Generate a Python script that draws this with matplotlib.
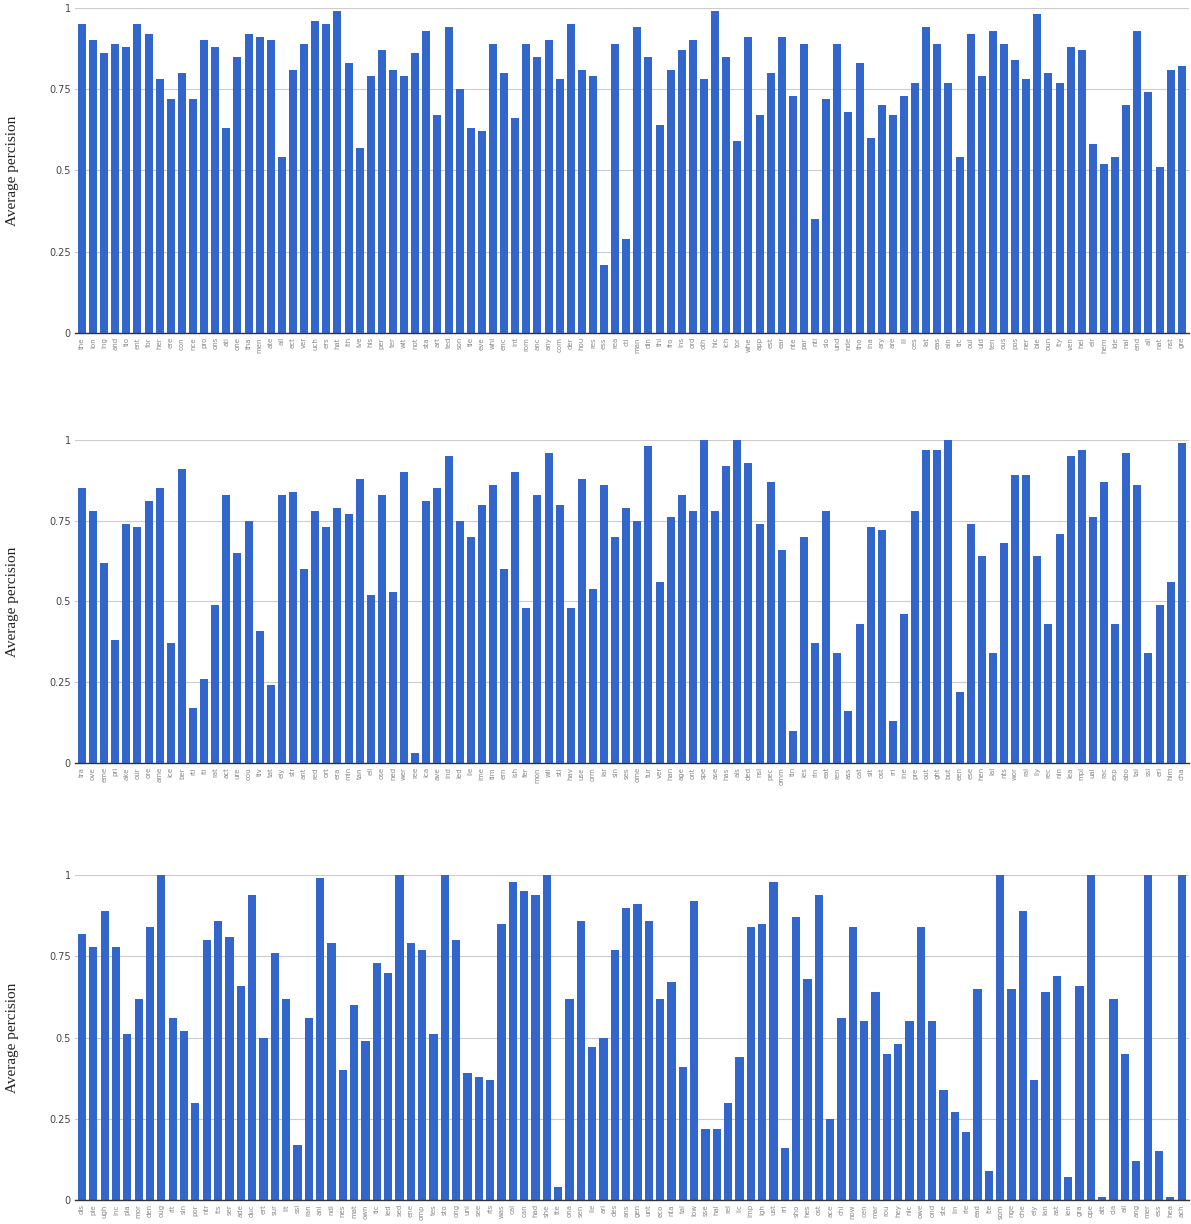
import matplotlib
matplotlib.use("Agg")
from matplotlib import pyplot as plt

# data ---------------------------------------------------------------
labels_1 = ["the", "ion", "ing", "and", "tio", "ent", "for", "her", "ere", "con",
            "nce", "pro", "ons", "ati", "one", "tha", "men", "ate", "all", "ect",
            "ver", "uch", "ers", "hat", "ith", "ive", "his", "per", "ter", "wit",
            "not", "sta", "art", "ted", "son", "tle", "eve", "whi", "enc", "int",
            "rom", "anc", "any", "com", "der", "hou", "res", "ess", "rea", "cti",
            "man", "din", "thi", "fro", "ins", "ord", "oth", "hic", "ich", "tor",
            "whe", "app", "est", "ear", "nte", "par", "nti", "sio", "und", "nde",
            "tho", "ina", "ary", "are", "ill", "ces", "lat", "eas", "ain", "tic",
            "oul", "uld", "ten", "ous", "pos", "ner", "ble", "oun", "ity", "ven",
            "hei", "eir", "hem", "ide", "nal", "end", "ali", "nat", "nst", "gre"]
values_1 = [0.95, 0.90, 0.86, 0.89, 0.88, 0.95, 0.92, 0.78, 0.72, 0.80,
            0.72, 0.90, 0.88, 0.63, 0.85, 0.92, 0.91, 0.90, 0.54, 0.81,
            0.89, 0.96, 0.95, 0.99, 0.83, 0.57, 0.79, 0.87, 0.81, 0.79,
            0.86, 0.93, 0.67, 0.94, 0.75, 0.63, 0.62, 0.89, 0.80, 0.66,
            0.89, 0.85, 0.90, 0.78, 0.95, 0.81, 0.79, 0.21, 0.89, 0.29,
            0.94, 0.85, 0.64, 0.81, 0.87, 0.90, 0.78, 0.99, 0.85, 0.59,
            0.91, 0.67, 0.80, 0.91, 0.73, 0.89, 0.35, 0.72, 0.89, 0.68,
            0.83, 0.60, 0.70, 0.67, 0.73, 0.77, 0.94, 0.89, 0.77, 0.54,
            0.92, 0.79, 0.93, 0.89, 0.84, 0.78, 0.98, 0.80, 0.77, 0.88,
            0.87, 0.58, 0.52, 0.54, 0.70, 0.93, 0.74, 0.51, 0.81, 0.82]

labels_2 = ["tra", "ove", "eme", "pri", "ake", "our", "ore", "ame", "ice", "ber",
            "rti", "iti", "rat", "act", "ure", "cou", "tiv", "tat", "ely", "str",
            "ant", "red", "ort", "era", "min", "tan", "ell", "ose", "ned", "wer",
            "ree", "ica", "ave", "ind", "led", "ile", "ime", "tim", "ern", "ish",
            "fer", "mon", "wil", "sti", "hav", "use", "orm", "lar", "sin", "ses",
            "ome", "tur", "ver", "han", "age", "ont", "spe", "ase", "has", "als",
            "ded", "nsi", "pec", "omm", "tin", "ies", "rin", "eat", "ren", "ass",
            "cat", "sit", "ost", "rri", "ine", "pre", "out", "ght", "but", "een",
            "ese", "hen", "ial", "nts", "wor", "ral", "lly", "rec", "nin", "lea",
            "mpl", "ual", "rac", "exp", "abo", "tai", "ssi", "eri", "him", "cha"]
values_2 = [0.85, 0.78, 0.62, 0.38, 0.74, 0.73, 0.81, 0.85, 0.37, 0.91,
            0.17, 0.26, 0.49, 0.83, 0.65, 0.75, 0.41, 0.24, 0.83, 0.84,
            0.60, 0.78, 0.73, 0.79, 0.77, 0.88, 0.52, 0.83, 0.53, 0.90,
            0.03, 0.81, 0.85, 0.95, 0.75, 0.70, 0.80, 0.86, 0.60, 0.90,
            0.48, 0.83, 0.96, 0.80, 0.48, 0.88, 0.54, 0.86, 0.70, 0.79,
            0.75, 0.98, 0.56, 0.76, 0.83, 0.78, 1.00, 0.78, 0.92, 1.00,
            0.93, 0.74, 0.87, 0.66, 0.10, 0.70, 0.37, 0.78, 0.34, 0.16,
            0.43, 0.73, 0.72, 0.13, 0.46, 0.78, 0.97, 0.97, 1.00, 0.22,
            0.74, 0.64, 0.34, 0.68, 0.89, 0.89, 0.64, 0.43, 0.71, 0.95,
            0.97, 0.76, 0.87, 0.43, 0.96, 0.86, 0.34, 0.49, 0.56, 0.99]

labels_3 = ["dis", "ple", "ugh", "inc", "pla", "mor", "den", "oug", "rit", "sin",
            "por", "ntr", "its", "ser", "ade", "duc", "ert", "sur", "lit", "ssi",
            "ran", "ani", "ndi", "nes", "mat", "own", "tic", "led", "sed", "ene",
            "omp", "tes", "sto", "ong", "uni", "see", "rts", "was", "cal", "can",
            "had", "she", "tte", "ona", "sen", "ile", "ari", "des", "ans", "gen",
            "unt", "eco", "nta", "tal", "low", "sse", "hal", "rel", "lic", "imp",
            "igh", "ust", "rri", "sho", "hes", "ost", "ace", "chi", "now", "cen",
            "mar", "rou", "hey", "nic", "owe", "ond", "ste", "lin", "rie", "ead",
            "ite", "som", "nge", "che", "ely", "lan", "ast", "ien", "gra", "ope",
            "att", "cia", "ali", "ang", "mer", "ess", "hea", "ach"]
values_3 = [0.82, 0.78, 0.89, 0.78, 0.51, 0.62, 0.84, 1.00, 0.56, 0.52,
            0.30, 0.80, 0.86, 0.81, 0.66, 0.94, 0.50, 0.76, 0.62, 0.17,
            0.56, 0.99, 0.79, 0.40, 0.60, 0.49, 0.73, 0.70, 1.00, 0.79,
            0.77, 0.51, 1.00, 0.80, 0.39, 0.38, 0.37, 0.85, 0.98, 0.95,
            0.94, 1.00, 0.04, 0.62, 0.86, 0.47, 0.50, 0.77, 0.90, 0.91,
            0.86, 0.62, 0.67, 0.41, 0.92, 0.22, 0.22, 0.30, 0.44, 0.84,
            0.85, 0.98, 0.16, 0.87, 0.68, 0.94, 0.25, 0.56, 0.84, 0.55,
            0.64, 0.45, 0.48, 0.55, 0.84, 0.55, 0.34, 0.27, 0.21, 0.65,
            0.09, 1.00, 0.65, 0.89, 0.37, 0.64, 0.69, 0.07, 0.66, 1.00,
            0.01, 0.62, 0.45, 0.12, 1.00, 0.15, 0.01, 1.00]

yticks = [0, 0.25, 0.5, 0.75, 1]
ytick_labels = ["0", "0.25", "0.5", "0.75", "1"]

# figure -------------------------------------------------------------
fig = plt.figure(figsize=(11.91, 12.24), dpi=100)

# axes boxes in figure fractions (left, bottom, width, height)
boxes = [(0.063, 0.728, 0.935, 0.2655),
         (0.063, 0.3766, 0.935, 0.264),
         (0.063, 0.0196, 0.935, 0.2655)]

panels = [(labels_1, values_1), (labels_2, values_2), (labels_3, values_3)]

for box, (labels, values) in zip(boxes, panels):
    ax = fig.add_axes(box)
    x = list(range(len(labels)))
    ax.bar(x, values, width=0.72, color="#3366cc", zorder=3)
    ax.set_xlim(-0.62, len(labels) - 0.38)
    ax.set_ylim(0, 1)
    ax.set_yticks(yticks)
    ax.set_yticklabels(ytick_labels, fontsize=7, color="#444444")
    ax.set_xticks(x)
    ax.set_xticklabels(labels, rotation=90, fontsize=5, color="#888888")
    ax.tick_params(axis="both", length=0, pad=3)
    ax.grid(axis="y", color="#cccccc", linewidth=0.8, zorder=0)
    for s in ["top", "right", "left"]:
        ax.spines[s].set_visible(False)
    ax.spines["bottom"].set_color("#333333")
    ax.spines["bottom"].set_linewidth(1)
    ax.spines["bottom"].set_zorder(4)
    ax.set_ylabel("Average percision", family="Liberation Serif",
                  fontsize=11, color="#222222", labelpad=22)

plt.savefig("out.png", dpi=100)
plt.close()
